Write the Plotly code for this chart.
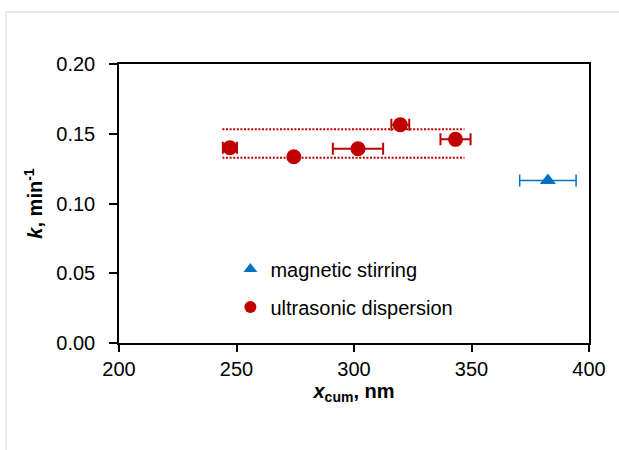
import plotly.graph_objects as go

# Rate constant k versus cumulant particle size x_cum
ultra_x = [247.2, 274.4, 301.7, 319.7, 343.2]
ultra_k = [0.140, 0.1335, 0.1392, 0.1565, 0.1460]
ultra_x_err = [3.0, 0.0, 10.7, 3.8, 6.4]

magnetic_x = [382.5]
magnetic_k = [0.1165]
magnetic_x_err = [12.0]

# Dotted band bounding the ultrasonic dispersion results
band_x = [244, 347]
band_upper = 0.1532
band_lower = 0.1328

x_ticks = [200, 250, 300, 350, 400]
y_ticks = [0.00, 0.05, 0.10, 0.15, 0.20]

RED = "#C00000"
BLUE = "#0070C0"
FONT = "Liberation Sans, Arial, sans-serif"

fig = go.Figure()

for level in (band_upper, band_lower):
    fig.add_trace(go.Scatter(
        x=band_x, y=[level, level], mode="lines",
        line=dict(color=RED, width=2, dash="2px,1.6px"),
        showlegend=False, hoverinfo="skip",
    ))

fig.add_trace(go.Scatter(
    x=magnetic_x, y=magnetic_k, mode="markers", name="magnetic stirring",
    marker=dict(symbol="triangle-up", size=14, color=BLUE),
    error_x=dict(type="data", array=magnetic_x_err, color=BLUE,
                 thickness=1.5, width=6),
    legendgroup="a",
))

fig.add_trace(go.Scatter(
    x=ultra_x, y=ultra_k, mode="markers", name="ultrasonic dispersion",
    marker=dict(symbol="circle", size=15, color=RED),
    error_x=dict(type="data", array=ultra_x_err, color=RED,
                 thickness=2, width=6),
    legendgroup="b",
))

# Light grey chart-area frame
fig.add_shape(type="rect", xref="paper", yref="paper",
              x0=-0.2404, x1=1.08, y0=-0.45, y1=1.1864,
              line=dict(color="#D9D9D9", width=1), layer="below")

fig.update_layout(
    width=619, height=450,
    margin=dict(l=119, r=30, t=64, b=107),
    paper_bgcolor="white", plot_bgcolor="white",
    font=dict(family=FONT, size=20, color="#000000"),
    showlegend=True,
    legend=dict(
        x=0.237, y=0.335, xanchor="left", yanchor="top",
        bgcolor="rgba(0,0,0,0)", font=dict(size=20),
        itemsizing="constant", tracegroupgap=9,
        traceorder="grouped",
    ),
    xaxis=dict(
        range=[200, 400], tickvals=x_ticks,
        ticktext=[str(v) for v in x_ticks],
        showgrid=False, zeroline=False,
        showline=True, linecolor="#000000", linewidth=1.5, mirror=True,
        ticks="outside", ticklen=7, tickwidth=1.5, tickcolor="#000000",
        tickfont=dict(size=20),
        title=dict(text="<b><i>x</i><sub>cum</sub>, nm</b>",
                   font=dict(size=20), standoff=0),
    ),
    yaxis=dict(
        range=[0, 0.2], tickvals=y_ticks,
        ticktext=[f"{v:.2f}" for v in y_ticks],
        showgrid=False, zeroline=False,
        showline=True, linecolor="#000000", linewidth=1.5, mirror=True,
        ticks="outside", ticklen=8, tickwidth=1.5, tickcolor="#000000",
        tickfont=dict(size=20), ticklabelstandoff=10,
        title=dict(text="<b><i>k</i>, min<sup>-1</sup></b>",
                   font=dict(size=20), standoff=8),
    ),
)

fig.write_html("out.html")
